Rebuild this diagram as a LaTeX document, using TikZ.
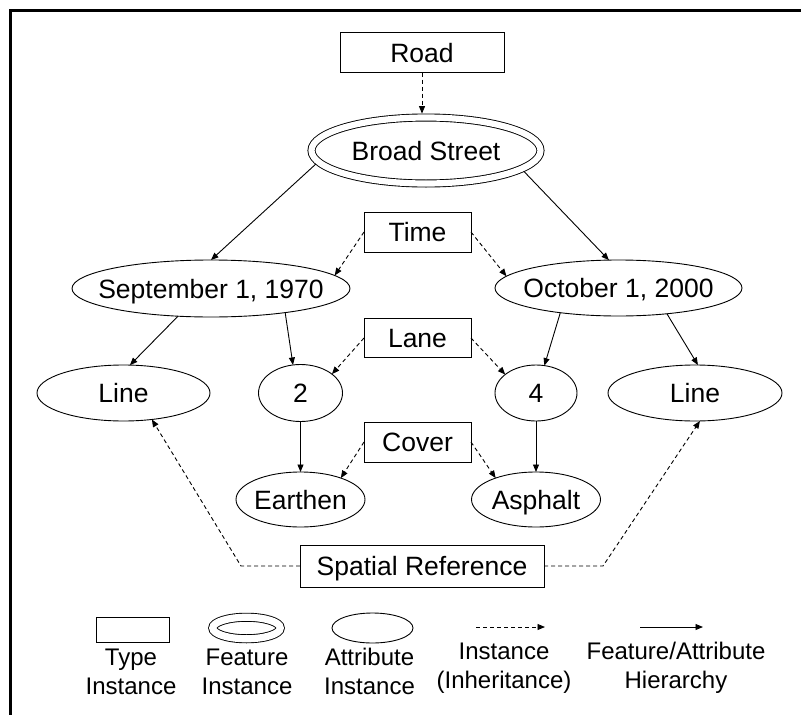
\documentclass[tikz,border=0pt]{standalone}
\usepackage{fontspec}
\setmainfont{Liberation Sans}
\usetikzlibrary{shapes.geometric,arrows.meta}
\newcommand\zw[1]{\makebox[0pt]{#1}}
\begin{document}
\begin{tikzpicture}[x=1pt,y=-1pt,
 lbl/.style={font=\fontsize{26.5}{30}\selectfont, text height=19pt, text depth=0pt},
 shp/.style={draw, line width=0.9pt, inner sep=0pt, outer sep=0pt},
 typebox/.style={shp, rectangle},
 attr/.style={shp, ellipse},
 feat/.style={shp, ellipse, double, double distance=6.2pt, outer sep=3.9pt},
 hier/.style={line width=0.9pt, -{Triangle[length=7.5pt,width=6pt]}},
 inst/.style={hier, dash pattern=on 4pt off 3pt},
 legtext/.style={font=\fontsize{24}{29}\selectfont, align=center, inner sep=0pt, anchor=north}
]
\useasboundingbox (0,0) rectangle (801,715);
\draw[line width=3pt] (10.5,715) -- (10.5,10.5) -- (801,10.5);

\node[typebox, lbl, minimum width=164pt, minimum height=40pt] (road) at (422,52.7) {Road};
\node[feat, lbl, minimum width=229pt, minimum height=66pt] (broad) at (426,150.5) {\zw{Broad Street}};
\node[typebox, lbl, minimum width=107pt, minimum height=40pt] (time) at (417.5,232) {Time};
\node[attr, lbl, minimum width=278pt, minimum height=57pt] (sep) at (211,288.5) {\zw{September 1, 1970}};
\node[attr, lbl, minimum width=247pt, minimum height=56pt] (oct) at (618.5,288) {\zw{October 1, 2000}};
\node[typebox, lbl, minimum width=107pt, minimum height=39pt] (lane) at (417.5,338) {Lane};
\node[attr, lbl, minimum width=173pt, minimum height=56pt] (lineL) at (123.5,393) {\zw{Line}};
\node[attr, lbl, minimum width=84pt, minimum height=57pt] (two) at (300.5,393) {\zw{2}};
\node[attr, lbl, minimum width=82pt, minimum height=56pt] (four) at (536,393) {\zw{4}};
\node[attr, lbl, minimum width=174pt, minimum height=56pt] (lineR) at (695,393) {\zw{Line}};
\node[typebox, lbl, minimum width=107pt, minimum height=40pt] (cover) at (417.5,442) {Cover};
\node[attr, lbl, minimum width=129pt, minimum height=55pt] (earthen) at (300.5,499.5) {\zw{Earthen}};
\node[attr, lbl, minimum width=129pt, minimum height=55pt] (asphalt) at (536,499.5) {\zw{Asphalt}};
\node[typebox, lbl, minimum width=244pt, minimum height=42pt] (spatial) at (422,566) {Spatial Reference};

\draw[inst] (road.south) -- (road.south |- broad.north);
\draw[hier] (broad.187) -- (sep.north);
\draw[hier] (broad.-12) -- (oct.109);
\draw[inst] (time.west) -- (sep.6);
\draw[inst] (time.east) -- (oct.174);
\draw[hier] (sep.-140) -- (lineL.77);
\draw[hier] (sep.-18) -- (two.105);
\draw[hier] (oct.-157) -- (four.73);
\draw[hier] (oct.-28) -- (lineR.84);
\draw[inst] (lane.west) -- (two.31);
\draw[inst] (lane.east) -- (four.149);
\draw[hier] (two) -- (earthen);
\draw[hier] (four) -- (asphalt);
\draw[inst] (cover.west) -- (earthen.28);
\draw[inst] (cover.east) -- (asphalt.152);
\draw[inst] (spatial.west) -- ++(-59,0) -- (lineL.-43);
\draw[inst] (spatial.east) -- ++(59,0) -- (lineR.-80);

% legend
\node[typebox, minimum width=73pt, minimum height=25pt] (legType) at (132.5,629.5) {};
\node[feat, outer sep=0pt, minimum width=67.5pt, minimum height=21.5pt, double distance=7.2pt] (legFeat) at (246.5,628) {};
\node[attr, minimum width=81pt, minimum height=30pt] (legAttr) at (372.5,628) {};
\coordinate (dA) at (476,627);
\coordinate (dB) at (545,627);
\draw[inst] (dA) -- (dB);
\coordinate (hA) at (640,627);
\coordinate (hB) at (703,627);
\draw[hier] (hA) -- (hB);
\node[legtext] (tType) at (131,648.4) {Type\\Instance};
\node[legtext] (tFeat) at (247,648.4) {Feature\\Instance};
\node[legtext] (tAttr) at (369.5,648.4) {Attribute\\Instance};
\node[legtext] (tInst) at (504,642.4) {Instance\\(Inheritance)};
\node[legtext] (tHier) at (676,642.4) {Feature/Attribute\\Hierarchy};
\end{tikzpicture}
\end{document}
